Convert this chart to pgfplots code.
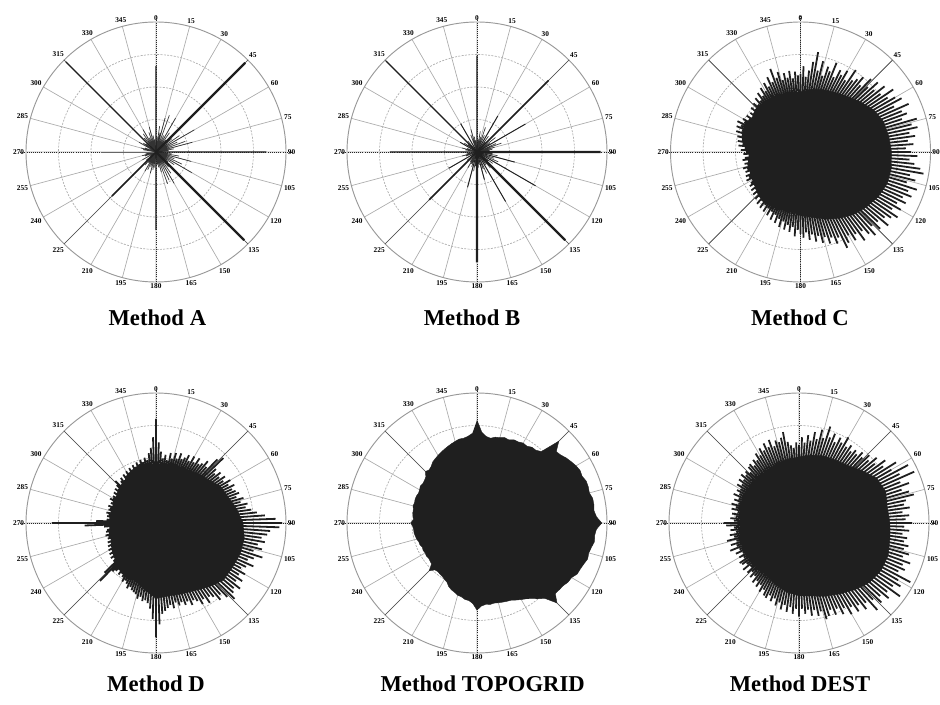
\documentclass[border=0pt]{standalone}
\usepackage{pgfplots}
\pgfplotsset{compat=1.18}
\usepgfplotslibrary{polar}
\usepackage{fontspec}
\setmainfont{Liberation Serif}
\definecolor{spk}{gray}{0.12}
\pgfplotsset{
 rose/.style={
  width=195pt,height=195pt,scale only axis,anchor=center,
  xmin=0,xmax=360,ymin=0,ymax=1,
  xtick={0,15,...,345},
  xticklabels={90,75,60,45,30,15,0,345,330,315,300,285,270,255,240,225,210,195,180,165,150,135,120,105},
  ytick={0.25,0.5,0.75},yticklabels={},
  xmajorgrids,ymajorgrids,
  x grid style={black!33,line width=0.5pt},
  y grid style={black!33,dash pattern=on 1.5pt off 1pt,line width=0.5pt},
  x axis line style={black!40,line width=0.7pt},
  y axis line style={draw=none},
  major tick length=0pt,
  xticklabel style={font=\fontsize{5.5}{6}\selectfont\bfseries,inner sep=1.2pt},
  x filter/.expression={mod(450-x,360)},
  clip=false,
 },
 cardinal/.style={black!85,densely dotted,line width=0.6pt},
 diag/.style={black!70,line width=0.5pt},
 comb/.style={no markers,spk,line width=#1,line join=bevel,line cap=butt},
 core/.style={no markers,draw=spk,fill=spk,line width=0.3pt},
}
\newcommand{\guides}{%
 \addplot[cardinal] coordinates {(0,1.045) (180,1.045)};
 \addplot[cardinal] coordinates {(90,1.045) (270,1.045)};
 \addplot[diag] coordinates {(45,1) (225,1)};
 \addplot[diag] coordinates {(135,1) (315,1)};
}
\begin{document}
\begin{tikzpicture}
\path[use as bounding box] (0,0) rectangle (705pt,-528.75pt);
% ---------- Method A  (each spike: centre -> tip)
\begin{polaraxis}[rose,at={(117pt,-114pt)}]
\guides
\addplot[comb=0.5pt,black!80] coordinates {(0,0)(3,.12)(0,0)(8,.20)(0,0)(12,.15)(0,0)(15,.27)(0,0)(20,.30)(0,0)(25,.14)(0,0)(30,.30)(0,0)(35,.18)(0,0)(40,.12)(0,0)(50,.16)(0,0)(55,.22)(0,0)(60,.34)(0,0)(65,.18)(0,0)(70,.24)(0,0)(75,.29)(0,0)(80,.14)(0,0)(85,.10)(0,0)(95,.12)(0,0)(100,.18)(0,0)(105,.28)(0,0)(110,.15)(0,0)(115,.22)(0,0)(120,.32)(0,0)(125,.17)(0,0)(130,.12)(0,0)(140,.15)(0,0)(145,.20)(0,0)(150,.28)(0,0)(155,.24)(0,0)(160,.26)(0,0)(165,.16)(0,0)(170,.12)(0,0)(175,.10)(0,0)(185,.12)(0,0)(190,.14)(0,0)(195,.17)(0,0)(200,.12)(0,0)(205,.15)(0,0)(210,.17)(0,0)(215,.10)(0,0)(220,.13)(0,0)(230,.10)(0,0)(240,.12)(0,0)(250,.09)(0,0)(255,.11)(0,0)(260,.08)(0,0)(280,.10)(0,0)(285,.12)(0,0)(290,.09)(0,0)(300,.15)(0,0)(305,.12)(0,0)(310,.10)(0,0)(320,.14)(0,0)(325,.17)(0,0)(330,.20)(0,0)(335,.12)(0,0)(340,.16)(0,0)(345,.20)(0,0)(350,.13)(0,0)(355,.10)};
\addplot[comb=0.7pt,black!60] coordinates {(0,0)(270,.42)};
\addplot[comb=0.9pt] coordinates {(0,0)(315,.98)};
\addplot[comb=1.1pt] coordinates {(0,.66)(0,0)(90,.85)(0,0)(180,.60)(0,0)(225,.48)};
\addplot[comb=1.6pt] coordinates {(45,.97)(0,0)(135,.96)};
\end{polaraxis}
% ---------- Method B
\begin{polaraxis}[rose,at={(357.75pt,-114pt)}]
\guides
\addplot[comb=0.5pt,black!80] coordinates {(0,0)(4,.10)(0,0)(9,.16)(0,0)(14,.12)(0,0)(19,.20)(0,0)(24,.14)(0,0)(36,.15)(0,0)(40,.10)(0,0)(52,.18)(0,0)(57,.12)(0,0)(66,.16)(0,0)(70,.20)(0,0)(75,.14)(0,0)(80,.12)(0,0)(85,.10)(0,0)(96,.12)(0,0)(100,.16)(0,0)(110,.14)(0,0)(115,.18)(0,0)(126,.15)(0,0)(130,.11)(0,0)(140,.16)(0,0)(145,.12)(0,0)(156,.18)(0,0)(160,.14)(0,0)(170,.10)(0,0)(175,.12)(0,0)(186,.11)(0,0)(190,.15)(0,0)(200,.12)(0,0)(205,.10)(0,0)(210,.14)(0,0)(215,.09)(0,0)(230,.10)(0,0)(250,.09)(0,0)(255,.12)(0,0)(260,.08)(0,0)(280,.09)(0,0)(285,.12)(0,0)(290,.08)(0,0)(305,.12)(0,0)(310,.09)(0,0)(320,.11)(0,0)(340,.14)(0,0)(345,.18)(0,0)(350,.12)(0,0)(355,.09)};
\addplot[comb=0.7pt] coordinates {(0,0)(60,.43)(0,0)(30,.32)(0,0)(120,.52)(0,0)(150,.44)(0,0)(240,.25)(0,0)(195,.28)(0,0)(330,.25)(0,0)(105,.30)(0,0)(165,.22)(0,0)(300,.15)};
\addplot[comb=0.9pt] coordinates {(0,0)(315,.99)};
\addplot[comb=1.1pt] coordinates {(0,.74)(0,0)(45,.78)(0,0)(270,.67)(0,0)(225,.52)};
\addplot[comb=1.6pt] coordinates {(90,.95)(0,0)(135,.96)(0,0)(180,.85)};
\end{polaraxis}
% ---------- Method C
\begin{polaraxis}[rose,at={(600.4pt,-114pt)}]
\guides
\addplot[core] coordinates {(0,.46)(10,.49)(20,.51)(30,.53)(40,.56)(50,.60)(60,.65)(70,.68)(80,.69)(90,.70)(100,.71)(110,.71)(120,.69)(130,.66)(140,.63)(150,.59)(160,.55)(170,.51)(180,.49)(190,.46)(200,.43)(210,.40)(220,.38)(230,.36)(240,.34)(250,.33)(260,.32)(270,.32)(280,.34)(290,.36)(300,.36)(310,.37)(320,.39)(330,.41)(340,.43)(350,.45)};
\addplot[comb=1.35pt] coordinates {(0,0)(0,.60)(0,0)(2,.66)(0,0)(4,.58)(0,0)(6,.63)(0,0)(8,.70)(0,0)(10,.78)(0,0)(12,.64)(0,0)(14,.72)(0,0)(16,.61)(0,0)(18,.69)(0,0)(20,.66)(0,0)(22,.74)(0,0)(24,.63)(0,0)(26,.70)(0,0)(28,.67)(0,0)(30,.72)(0,0)(32,.65)(0,0)(34,.76)(0,0)(36,.68)(0,0)(38,.71)(0,0)(40,.75)(0,0)(42,.69)(0,0)(44,.78)(0,0)(46,.72)(0,0)(48,.80)(0,0)(50,.74)(0,0)(52,.82)(0,0)(54,.76)(0,0)(56,.86)(0,0)(58,.79)(0,0)(60,.84)(0,0)(62,.88)(0,0)(64,.80)(0,0)(66,.91)(0,0)(68,.84)(0,0)(70,.87)(0,0)(72,.82)(0,0)(74,.93)(0,0)(76,.88)(0,0)(78,.92)(0,0)(80,.85)(0,0)(82,.89)(0,0)(84,.83)(0,0)(86,.87)(0,0)(88,.81)(0,0)(90,.85)(0,0)(92,.90)(0,0)(94,.84)(0,0)(96,.88)(0,0)(98,.93)(0,0)(100,.96)(0,0)(102,.86)(0,0)(104,.91)(0,0)(106,.85)(0,0)(108,.94)(0,0)(110,.88)(0,0)(112,.92)(0,0)(114,.86)(0,0)(116,.90)(0,0)(118,.84)(0,0)(120,.89)(0,0)(122,.83)(0,0)(124,.90)(0,0)(126,.86)(0,0)(128,.82)(0,0)(130,.88)(0,0)(132,.80)(0,0)(134,.85)(0,0)(136,.79)(0,0)(138,.86)(0,0)(140,.82)(0,0)(142,.77)(0,0)(144,.84)(0,0)(146,.76)(0,0)(148,.80)(0,0)(150,.74)(0,0)(152,.79)(0,0)(154,.82)(0,0)(156,.72)(0,0)(158,.76)(0,0)(160,.70)(0,0)(162,.74)(0,0)(164,.68)(0,0)(166,.72)(0,0)(168,.66)(0,0)(170,.70)(0,0)(172,.64)(0,0)(174,.68)(0,0)(176,.62)(0,0)(178,.66)(0,0)(180,.63)(0,0)(182,.60)(0,0)(184,.65)(0,0)(186,.58)(0,0)(188,.62)(0,0)(190,.57)(0,0)(192,.61)(0,0)(194,.55)(0,0)(196,.60)(0,0)(198,.54)(0,0)(200,.58)(0,0)(202,.52)(0,0)(204,.57)(0,0)(206,.51)(0,0)(208,.55)(0,0)(210,.50)(0,0)(212,.54)(0,0)(214,.49)(0,0)(216,.53)(0,0)(218,.48)(0,0)(220,.52)(0,0)(222,.47)(0,0)(224,.50)(0,0)(226,.46)(0,0)(228,.49)(0,0)(230,.45)(0,0)(232,.48)(0,0)(234,.44)(0,0)(236,.47)(0,0)(238,.45)(0,0)(240,.43)(0,0)(242,.47)(0,0)(244,.44)(0,0)(246,.46)(0,0)(248,.42)(0,0)(250,.45)(0,0)(252,.43)(0,0)(254,.46)(0,0)(256,.42)(0,0)(258,.44)(0,0)(260,.41)(0,0)(262,.45)(0,0)(264,.43)(0,0)(266,.40)(0,0)(268,.44)(0,0)(270,.42)(0,0)(272,.46)(0,0)(274,.43)(0,0)(276,.48)(0,0)(278,.45)(0,0)(280,.49)(0,0)(282,.46)(0,0)(284,.50)(0,0)(286,.47)(0,0)(288,.52)(0,0)(290,.48)(0,0)(292,.53)(0,0)(294,.50)(0,0)(296,.54)(0,0)(298,.49)(0,0)(300,.51)(0,0)(302,.47)(0,0)(304,.50)(0,0)(306,.46)(0,0)(308,.49)(0,0)(310,.47)(0,0)(312,.51)(0,0)(314,.48)(0,0)(316,.52)(0,0)(318,.49)(0,0)(320,.54)(0,0)(322,.50)(0,0)(324,.56)(0,0)(326,.52)(0,0)(328,.58)(0,0)(330,.54)(0,0)(332,.60)(0,0)(334,.56)(0,0)(336,.63)(0,0)(338,.58)(0,0)(340,.68)(0,0)(342,.60)(0,0)(344,.64)(0,0)(346,.57)(0,0)(348,.62)(0,0)(350,.58)(0,0)(352,.63)(0,0)(354,.57)(0,0)(356,.62)(0,0)(358,.59)};
\end{polaraxis}
% ---------- Method D
\begin{polaraxis}[rose,at={(117pt,-392.25pt)}]
\guides
\addplot[core] coordinates {(0,.42)(10,.43)(20,.45)(30,.47)(40,.50)(50,.52)(60,.57)(70,.59)(80,.63)(90,.67)(100,.69)(110,.69)(120,.68)(130,.68)(140,.64)(150,.60)(160,.58)(170,.57)(180,.58)(190,.52)(200,.47)(210,.43)(220,.38)(230,.35)(240,.33)(250,.32)(260,.32)(270,.32)(280,.31)(290,.31)(300,.32)(310,.33)(320,.35)(330,.38)(340,.39)(350,.41)};
\addplot[comb=1.35pt] coordinates {(0,0)(0,.80)(0,0)(2,.62)(0,0)(4,.55)(0,0)(6,.50)(0,0)(8,.53)(0,0)(10,.49)(0,0)(12,.55)(0,0)(14,.51)(0,0)(16,.56)(0,0)(18,.52)(0,0)(20,.57)(0,0)(22,.53)(0,0)(24,.55)(0,0)(26,.58)(0,0)(28,.54)(0,0)(30,.59)(0,0)(32,.55)(0,0)(34,.60)(0,0)(36,.56)(0,0)(38,.58)(0,0)(40,.62)(0,0)(42,.58)(0,0)(44,.68)(0,0)(46,.72)(0,0)(48,.62)(0,0)(50,.59)(0,0)(52,.63)(0,0)(54,.60)(0,0)(56,.64)(0,0)(58,.61)(0,0)(60,.66)(0,0)(62,.63)(0,0)(64,.67)(0,0)(66,.64)(0,0)(68,.66)(0,0)(70,.68)(0,0)(72,.65)(0,0)(74,.70)(0,0)(76,.67)(0,0)(78,.72)(0,0)(80,.70)(0,0)(82,.74)(0,0)(84,.78)(0,0)(86,.84)(0,0)(88,.92)(0,0)(90,.97)(0,0)(92,.95)(0,0)(94,.88)(0,0)(96,.86)(0,0)(98,.82)(0,0)(100,.85)(0,0)(102,.80)(0,0)(104,.84)(0,0)(106,.78)(0,0)(108,.86)(0,0)(110,.80)(0,0)(112,.76)(0,0)(114,.82)(0,0)(116,.77)(0,0)(118,.74)(0,0)(120,.79)(0,0)(122,.75)(0,0)(124,.80)(0,0)(126,.76)(0,0)(128,.82)(0,0)(130,.78)(0,0)(132,.80)(0,0)(134,.84)(0,0)(136,.79)(0,0)(138,.74)(0,0)(140,.77)(0,0)(142,.72)(0,0)(144,.70)(0,0)(146,.74)(0,0)(148,.69)(0,0)(150,.72)(0,0)(152,.68)(0,0)(154,.66)(0,0)(156,.69)(0,0)(158,.65)(0,0)(160,.67)(0,0)(162,.64)(0,0)(164,.66)(0,0)(166,.63)(0,0)(168,.67)(0,0)(170,.64)(0,0)(172,.66)(0,0)(174,.68)(0,0)(176,.70)(0,0)(178,.78)(0,0)(180,.88)(0,0)(182,.74)(0,0)(184,.66)(0,0)(186,.62)(0,0)(188,.60)(0,0)(190,.61)(0,0)(192,.58)(0,0)(194,.60)(0,0)(196,.57)(0,0)(198,.56)(0,0)(200,.55)(0,0)(202,.53)(0,0)(204,.55)(0,0)(206,.52)(0,0)(208,.50)(0,0)(210,.52)(0,0)(212,.49)(0,0)(214,.47)(0,0)(216,.49)(0,0)(218,.46)(0,0)(220,.48)(0,0)(222,.50)(0,0)(224,.62)(0,0)(226,.55)(0,0)(228,.44)(0,0)(230,.42)(0,0)(232,.44)(0,0)(234,.41)(0,0)(236,.43)(0,0)(238,.40)(0,0)(240,.42)(0,0)(242,.39)(0,0)(244,.41)(0,0)(246,.38)(0,0)(248,.40)(0,0)(250,.37)(0,0)(252,.39)(0,0)(254,.38)(0,0)(256,.40)(0,0)(258,.37)(0,0)(260,.39)(0,0)(262,.38)(0,0)(264,.36)(0,0)(266,.40)(0,0)(268,.55)(0,0)(270,.80)(0,0)(272,.46)(0,0)(274,.38)(0,0)(276,.36)(0,0)(278,.38)(0,0)(280,.37)(0,0)(282,.39)(0,0)(284,.36)(0,0)(286,.38)(0,0)(288,.37)(0,0)(290,.39)(0,0)(292,.36)(0,0)(294,.38)(0,0)(296,.37)(0,0)(298,.40)(0,0)(300,.38)(0,0)(302,.39)(0,0)(304,.37)(0,0)(306,.40)(0,0)(308,.38)(0,0)(310,.41)(0,0)(312,.39)(0,0)(314,.42)(0,0)(316,.45)(0,0)(318,.40)(0,0)(320,.42)(0,0)(322,.44)(0,0)(324,.41)(0,0)(326,.45)(0,0)(328,.43)(0,0)(330,.46)(0,0)(332,.44)(0,0)(334,.47)(0,0)(336,.45)(0,0)(338,.48)(0,0)(340,.46)(0,0)(342,.49)(0,0)(344,.47)(0,0)(346,.50)(0,0)(348,.48)(0,0)(350,.51)(0,0)(352,.49)(0,0)(354,.54)(0,0)(356,.58)(0,0)(358,.66)};
\end{polaraxis}
% ---------- Method TOPOGRID
\begin{polaraxis}[rose,at={(357.75pt,-392.25pt)}]
\guides
\addplot[core] coordinates {(0,.79)(3,.70)(6,.67)(9,.66)(12,.675)(15,.68)(18,.69)(21,.685)(24,.70)(27,.70)(30,.71)(33,.705)(36,.72)(39,.72)(42,.74)(45,.89)(48,.82)(51,.83)(54,.85)(57,.865)(60,.88)(63,.89)(66,.885)(69,.90)(72,.90)(75,.895)(78,.91)(81,.91)(84,.905)(87,.92)(90,.96)(93,.92)(96,.91)(99,.915)(102,.90)(105,.89)(108,.895)(111,.88)(114,.87)(117,.865)(120,.84)(123,.835)(126,.82)(129,.815)(132,.81)(135,.87)(138,.78)(141,.75)(144,.72)(147,.695)(150,.68)(153,.665)(156,.65)(159,.645)(162,.64)(165,.635)(168,.63)(171,.635)(174,.63)(177,.64)(180,.67)(183,.62)(186,.60)(189,.595)(192,.58)(195,.575)(198,.56)(201,.55)(204,.535)(207,.51)(210,.50)(213,.49)(216,.485)(219,.48)(222,.485)(225,.52)(228,.47)(231,.465)(234,.46)(237,.465)(240,.46)(243,.465)(246,.46)(249,.47)(252,.47)(255,.48)(258,.485)(261,.49)(264,.49)(267,.495)(270,.51)(273,.49)(276,.495)(279,.50)(282,.50)(285,.51)(288,.505)(291,.51)(294,.51)(297,.505)(300,.51)(303,.52)(306,.515)(309,.52)(312,.53)(315,.56)(318,.55)(321,.56)(324,.58)(327,.59)(330,.60)(333,.61)(336,.62)(339,.63)(342,.64)(345,.65)(348,.66)(351,.66)(354,.67)(357,.69)};
\end{polaraxis}
% ---------- Method DEST
\begin{polaraxis}[rose,at={(599.25pt,-392.25pt)}]
\guides
\addplot[core] coordinates {(0,.51)(10,.53)(20,.55)(30,.56)(40,.58)(50,.63)(60,.69)(70,.71)(80,.69)(90,.70)(100,.71)(110,.73)(120,.73)(130,.71)(140,.67)(150,.63)(160,.60)(170,.57)(180,.56)(190,.54)(200,.51)(210,.48)(220,.44)(230,.41)(240,.40)(250,.40)(260,.40)(270,.40)(280,.39)(290,.39)(300,.40)(310,.42)(320,.44)(330,.47)(340,.49)(350,.50)};
\addplot[comb=1.35pt] coordinates {(0,0)(0,.60)(0,0)(2,.66)(0,0)(4,.62)(0,0)(6,.68)(0,0)(8,.64)(0,0)(10,.71)(0,0)(12,.66)(0,0)(14,.74)(0,0)(16,.68)(0,0)(18,.78)(0,0)(20,.70)(0,0)(22,.74)(0,0)(24,.68)(0,0)(26,.73)(0,0)(28,.70)(0,0)(30,.76)(0,0)(32,.69)(0,0)(34,.72)(0,0)(36,.68)(0,0)(38,.71)(0,0)(40,.69)(0,0)(42,.73)(0,0)(44,.70)(0,0)(46,.75)(0,0)(48,.72)(0,0)(50,.78)(0,0)(52,.74)(0,0)(54,.82)(0,0)(56,.78)(0,0)(58,.88)(0,0)(60,.82)(0,0)(62,.95)(0,0)(64,.86)(0,0)(66,.97)(0,0)(68,.84)(0,0)(70,.90)(0,0)(72,.83)(0,0)(74,.88)(0,0)(76,.91)(0,0)(78,.84)(0,0)(80,.82)(0,0)(82,.86)(0,0)(84,.80)(0,0)(86,.85)(0,0)(88,.82)(0,0)(90,.87)(0,0)(92,.81)(0,0)(94,.85)(0,0)(96,.80)(0,0)(98,.84)(0,0)(100,.82)(0,0)(102,.86)(0,0)(104,.83)(0,0)(106,.88)(0,0)(108,.84)(0,0)(110,.91)(0,0)(112,.86)(0,0)(114,.89)(0,0)(116,.85)(0,0)(118,.97)(0,0)(120,.88)(0,0)(122,.92)(0,0)(124,.87)(0,0)(126,.96)(0,0)(128,.86)(0,0)(130,.90)(0,0)(132,.84)(0,0)(134,.88)(0,0)(136,.82)(0,0)(138,.90)(0,0)(140,.80)(0,0)(142,.84)(0,0)(144,.78)(0,0)(146,.82)(0,0)(148,.76)(0,0)(150,.81)(0,0)(152,.74)(0,0)(154,.78)(0,0)(156,.72)(0,0)(158,.76)(0,0)(160,.71)(0,0)(162,.75)(0,0)(164,.77)(0,0)(166,.70)(0,0)(168,.73)(0,0)(170,.68)(0,0)(172,.72)(0,0)(174,.67)(0,0)(176,.70)(0,0)(178,.66)(0,0)(180,.72)(0,0)(182,.66)(0,0)(184,.70)(0,0)(186,.65)(0,0)(188,.69)(0,0)(190,.64)(0,0)(192,.68)(0,0)(194,.63)(0,0)(196,.66)(0,0)(198,.61)(0,0)(200,.64)(0,0)(202,.60)(0,0)(204,.63)(0,0)(206,.62)(0,0)(208,.58)(0,0)(210,.61)(0,0)(212,.56)(0,0)(214,.59)(0,0)(216,.55)(0,0)(218,.58)(0,0)(220,.53)(0,0)(222,.56)(0,0)(224,.52)(0,0)(226,.55)(0,0)(228,.50)(0,0)(230,.56)(0,0)(232,.51)(0,0)(234,.54)(0,0)(236,.55)(0,0)(238,.50)(0,0)(240,.53)(0,0)(242,.49)(0,0)(244,.54)(0,0)(246,.50)(0,0)(248,.57)(0,0)(250,.51)(0,0)(252,.55)(0,0)(254,.50)(0,0)(256,.57)(0,0)(258,.51)(0,0)(260,.54)(0,0)(262,.49)(0,0)(264,.53)(0,0)(266,.50)(0,0)(268,.56)(0,0)(270,.58)(0,0)(272,.50)(0,0)(274,.53)(0,0)(276,.49)(0,0)(278,.52)(0,0)(280,.48)(0,0)(282,.53)(0,0)(284,.50)(0,0)(286,.54)(0,0)(288,.49)(0,0)(290,.53)(0,0)(292,.50)(0,0)(294,.55)(0,0)(296,.51)(0,0)(298,.54)(0,0)(300,.52)(0,0)(302,.56)(0,0)(304,.53)(0,0)(306,.57)(0,0)(308,.54)(0,0)(310,.58)(0,0)(312,.55)(0,0)(314,.57)(0,0)(316,.54)(0,0)(318,.58)(0,0)(320,.59)(0,0)(322,.56)(0,0)(324,.60)(0,0)(326,.58)(0,0)(328,.63)(0,0)(330,.60)(0,0)(332,.65)(0,0)(334,.62)(0,0)(336,.67)(0,0)(338,.63)(0,0)(340,.68)(0,0)(342,.62)(0,0)(344,.66)(0,0)(346,.64)(0,0)(348,.67)(0,0)(350,.71)(0,0)(352,.63)(0,0)(354,.60)(0,0)(356,.58)(0,0)(358,.62)};
\end{polaraxis}
% ---------- titles
\begin{scope}[every node/.style={font=\fontsize{17}{20}\selectfont\bfseries,anchor=base,inner sep=0pt}]
\node at (118pt,-244.5pt) {Method A};
\node at (354pt,-244.5pt) {Method B};
\node at (600pt,-244.5pt) {Method C};
\node at (117pt,-519pt) {Method D};
\node at (362pt,-519pt) {Method TOPOGRID};
\node at (600pt,-519pt) {Method DEST};
\end{scope}
\end{tikzpicture}
\end{document}
